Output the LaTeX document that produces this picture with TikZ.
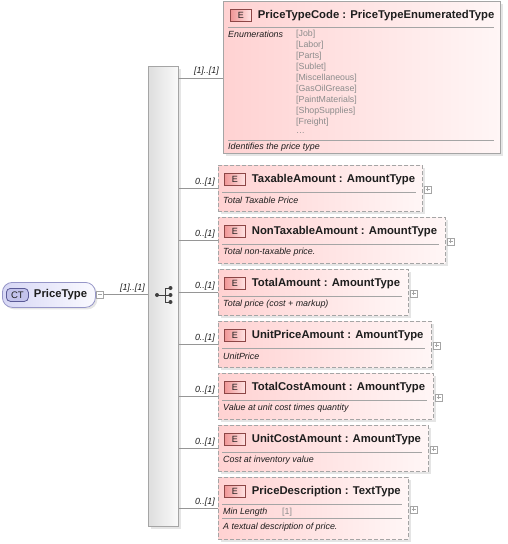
\documentclass[tikz,border=0pt]{standalone}
\usepackage{fontspec}
\setmainfont{Liberation Sans}
\usetikzlibrary{shadows}
\definecolor{elemL}{RGB}{255,210,210}
\definecolor{elemR}{RGB}{255,246,246}
\definecolor{boxborder}{RGB}{165,165,165}
\definecolor{badgeL}{RGB}{240,150,150}
\definecolor{badgeR}{RGB}{255,228,228}
\definecolor{badgeborder}{RGB}{140,70,70}
\definecolor{ctL}{RGB}{215,215,245}
\definecolor{ctR}{RGB}{250,250,255}
\definecolor{ctborder}{RGB}{150,150,200}
\definecolor{ctbadge}{RGB}{195,195,235}
\definecolor{ctbadgeborder}{RGB}{90,90,150}
\definecolor{seqL}{RGB}{222,222,222}
\definecolor{seqR}{RGB}{250,250,250}
\definecolor{conncol}{RGB}{150,150,150}
\definecolor{enumcol}{RGB}{140,140,140}
\definecolor{txt}{RGB}{30,30,30}
\newcommand\mkchild[5]{%
  \node[elembox, minimum width=#3pt, minimum height=46pt] (#1) at (218,#2) {};
  \node[ebadge] (#1-e) at ([xshift=6pt,yshift=-8pt]#1.north west) {E};
  \node[etitle] (#1-t) at ([xshift=6pt]#1-e.east) {#4};
  \draw[sepline] ([xshift=4pt,yshift=-27pt]#1.north west) -- ([xshift=-7pt,yshift=-27pt]#1.north east);
  \node[edesc] (#1-d) at ([xshift=5pt,yshift=-35pt]#1.north west) {#5};
  \node[plusbox] (#1-p) at ([xshift=1pt,yshift=-1pt]#1.east) {};
  \draw[plussign] ([xshift=-2pt]#1-p.center) -- ([xshift=2pt]#1-p.center) ([yshift=-2pt]#1-p.center) -- ([yshift=2pt]#1-p.center);
  \draw[conn] (seq.east |- #1.west) -- (#1.west);
  \node[mult] (#1-m) at ([xshift=-2pt,yshift=1pt]#1.west) {0..[1]};
}
\begin{document}
\begin{tikzpicture}[x=1pt,y=-1pt,
  elembox/.style={draw=boxborder, line width=0.8pt, dash pattern=on 4pt off 2pt, left color=elemL, right color=elemR,
    general shadow={fill=black!10, shadow xshift=2.5pt, shadow yshift=-2.5pt}, anchor=north west, inner sep=0pt},
  elemsolid/.style={draw=boxborder, line width=0.8pt, left color=elemL, right color=elemR,
    general shadow={fill=black!10, shadow xshift=3pt, shadow yshift=-3pt}, anchor=north west, inner sep=0pt},
  ebadge/.style={draw=badgeborder, line width=0.7pt, left color=badgeL, right color=badgeR, minimum width=21pt, minimum height=12pt,
    inner sep=0pt, anchor=north west, font=\fontsize{9}{9}\selectfont, text=txt},
  etitle/.style={anchor=west, inner sep=0pt, font=\fontsize{11.3}{11.3}\selectfont\bfseries, text=txt},
  edesc/.style={anchor=west, inner sep=0pt, font=\fontsize{8.9}{9}\selectfont\itshape, text=txt},
  enumv/.style={anchor=west, inner sep=0pt, font=\fontsize{8.8}{9}\selectfont, text=enumcol},
  sepline/.style={draw=boxborder, line width=0.7pt},
  plusbox/.style={draw=boxborder, line width=0.5pt, fill=white, minimum width=7pt, minimum height=7pt, inner sep=0pt, anchor=west},
  plussign/.style={draw=boxborder, line width=0.4pt},
  conn/.style={draw=conncol, line width=0.8pt},
  mult/.style={anchor=south east, inner sep=1pt, font=\fontsize{8.9}{9}\selectfont\itshape, text=txt},
  seqbar/.style={draw=boxborder, line width=0.7pt, left color=seqL, right color=seqR,
    general shadow={fill=black!10, shadow xshift=2.5pt, shadow yshift=-2.5pt}, anchor=north west, inner sep=0pt},
  icon/.style={draw=black!75, line width=0.9pt},
  ctbox/.style={draw=ctborder, line width=0.8pt, rounded corners=10pt, left color=ctL, right color=ctR,
    general shadow={fill=black!10, shadow xshift=2pt, shadow yshift=-2pt}, anchor=north west, inner sep=0pt},
  ctbadge/.style={draw=ctbadgeborder, line width=0.8pt, rounded corners=4pt, fill=ctbadge, minimum width=22pt, minimum height=13pt,
    inner sep=0pt, anchor=north west, font=\fontsize{9.5}{9.5}\selectfont, text=txt}
]
\useasboundingbox (0,0) rectangle (507,544);

% compositor
\node[seqbar, minimum width=30pt, minimum height=460pt] (seq) at (148,66) {};
\draw[icon] (157,295) -- (165,295) (165,288) -- (165,302) (165,288) -- (170,288) (165,302) -- (170,302) (165,295) -- (170,295);
\fill[black!75] (157,295) circle (2pt) (170.5,288) circle (2pt) (170.5,295) circle (2pt) (170.5,302) circle (2pt);

% root complex type
\node[ctbox, minimum width=93pt, minimum height=25pt] (pt) at (2,282) {};
\node[ctbadge] (pt-b) at (6,288) {CT};
\node[etitle] (pt-t) at ([xshift=5pt]pt-b.east) {PriceType};
\node[plusbox] (pt-m) at (96,294.5) {};
\draw[plussign] ([xshift=-2pt]pt-m.center) -- ([xshift=2pt]pt-m.center);
\draw[conn] (pt-m.east) -- (pt-m.east -| seq.west);
\node[mult] (pt-l) at (146,294) {[1]..[1]};

% PriceTypeCode
\node[elemsolid, minimum width=277pt, minimum height=152pt] (ptc) at (223,1) {};
\node[ebadge] (ptc-e) at (230,9) {E};
\node[etitle] (ptc-t) at ([xshift=6pt]ptc-e.east) {PriceTypeCode : PriceTypeEnumeratedType};
\draw[sepline] (228,27) -- (494,27);
\node[edesc] (ptc-en) at (228,34) {Enumerations};
\foreach \v [count=\i from 0] in {{[Job]},{[Labor]},{[Parts]},{[Sublet]},{[Miscellaneous]},{[GasOilGrease]},{[PaintMaterials]},{[ShopSupplies]},{[Freight]}}
  \node[enumv] (ptc-v\i) at (296,34+11*\i) {\v};
\node[enumv] (ptc-more) at (296,133) {\dots};
\draw[sepline] (228,140) -- (494,140);
\node[edesc] (ptc-d) at (228,147.5) {Identifies the price type};
\coordinate (c0) at (178,78);
\draw[conn] (c0) -- (c0 -| ptc.west);
\node[mult] (ptc-m) at (220,77) {[1]..[1]};

\mkchild{tax}{165}{204}{TaxableAmount : AmountType}{Total Taxable Price}
\mkchild{ntax}{217}{227}{NonTaxableAmount : AmountType}{Total non-taxable price.}
\mkchild{tot}{269}{190}{TotalAmount : AmountType}{Total price (cost + markup)}
\mkchild{unitp}{321}{213}{UnitPriceAmount : AmountType}{UnitPrice}
\mkchild{totc}{373}{215}{TotalCostAmount : AmountType}{Value at unit cost times quantity}
\mkchild{unitc}{425}{210}{UnitCostAmount : AmountType}{Cost at inventory value}

% PriceDescription
\node[elembox, minimum width=190pt, minimum height=62pt] (pd) at (218,477) {};
\node[ebadge] (pd-e) at ([xshift=6pt,yshift=-8pt]pd.north west) {E};
\node[etitle] (pd-t) at ([xshift=6pt]pd-e.east) {PriceDescription : TextType};
\draw[sepline] ([xshift=4pt,yshift=-27pt]pd.north west) -- ([xshift=-7pt,yshift=-27pt]pd.north east);
\node[edesc] (pd-ml) at ([xshift=5pt,yshift=-35pt]pd.north west) {Min Length};
\node[enumv] (pd-mv) at (282,512) {[1]};
\draw[sepline] ([xshift=4pt,yshift=-41pt]pd.north west) -- ([xshift=-7pt,yshift=-41pt]pd.north east);
\node[edesc] (pd-d) at ([xshift=5pt,yshift=-50pt]pd.north west) {A textual description of price.};
\node[plusbox] (pd-p) at ([xshift=1pt,yshift=-1pt]pd.east) {};
\draw[plussign] ([xshift=-2pt]pd-p.center) -- ([xshift=2pt]pd-p.center) ([yshift=-2pt]pd-p.center) -- ([yshift=2pt]pd-p.center);
\draw[conn] (seq.east |- pd.west) -- (pd.west);
\node[mult] (pd-m) at ([xshift=-2pt,yshift=1pt]pd.west) {0..[1]};
\end{tikzpicture}
\end{document}
